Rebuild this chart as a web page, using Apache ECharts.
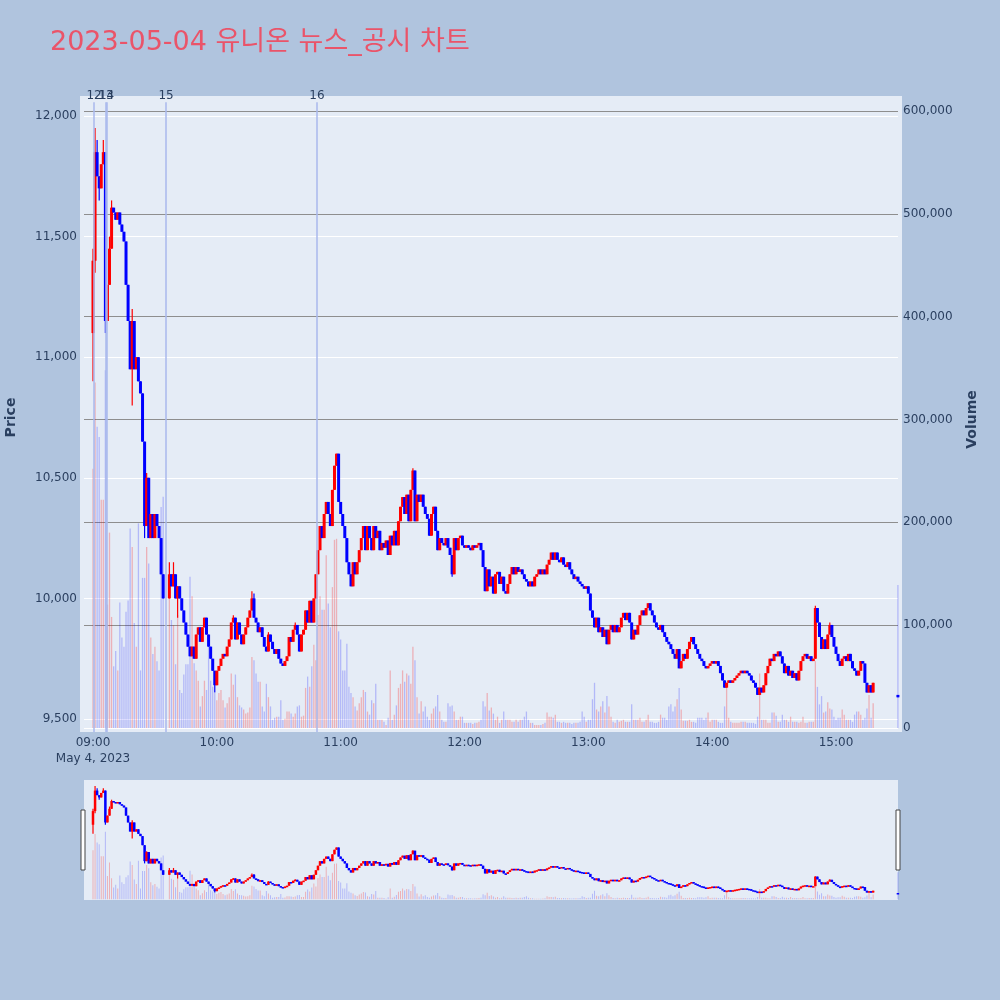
<!DOCTYPE html>
<html><head><meta charset="utf-8">
<script src="https://cdn.jsdelivr.net/npm/echarts@6/dist/echarts.min.js"></script>
<style>html,body{margin:0;padding:0;background:#b0c4de;}#chart{width:1000px;height:1000px;}</style>
</head><body><div id="chart"></div>
<script>
// ---------------- data (minute index = minutes after 09:00) ----------------
const titleText = '2023-05-04 유니온 뉴스_공시 차트';
const sessionStartHour = 9;
const dateLabel = 'May 4, 2023';
const xTickMinutes = [0, 60, 120, 180, 240, 300, 360];

const openPrice = [
11100,11400,11850,11750,11700,11800,11850,11150,11300,11450,
11620,11600,11570,11600,11550,11520,11480,11300,11150,10950,
11150,10950,11000,10900,10850,10650,10300,10500,10250,10350,
10250,10350,10300,10250,10100,null,null,10000,10100,10050,
10100,10000,10050,10000,9950,9900,9850,9800,9760,9800,
9750,9850,9880,9820,9880,9920,9850,9800,9750,9700,
9640,9700,9720,9750,9770,9760,9800,9830,9900,9920,
9830,9900,9850,9810,9850,9880,9920,9950,10000,9920,
9900,9860,9880,9840,9800,9780,9850,9820,9790,9770,
9790,9750,9730,9720,9740,9760,9840,9820,9870,9890,
9850,9780,9850,9870,9950,9900,9990,9900,10000,10100,
10200,10300,10250,10350,10400,10350,10300,10450,10550,10600,
10400,10350,10300,10250,10150,10100,10050,10150,10100,10150,
10200,10250,10300,10200,10300,10250,10200,10300,10250,10280,
10200,10230,10210,10240,10180,10260,10220,10280,10220,10320,
10380,10420,10350,10430,10320,10450,10530,10320,10430,10400,
10430,10380,10350,10330,10260,10350,10380,10280,10200,10250,
10230,10220,10250,10210,10180,10100,10250,10200,10250,10260,
10220,10210,10220,10210,10200,10220,10210,10220,10230,10200,
10130,10030,10120,10050,10090,10020,10100,10110,10060,10090,
10030,10020,10060,10100,10130,10100,10130,10110,10120,10100,
10080,10070,10050,10070,10050,10090,10100,10120,10100,10120,
10100,10140,10160,10190,10160,10190,10160,10150,10170,10140,
10130,10150,10120,10100,10080,10090,10070,10060,10050,10040,
10050,10020,9950,9920,9880,9920,9860,9880,9840,9870,
9810,9870,9890,9860,9890,9860,9880,9920,9940,9910,
9940,9900,9830,9870,9850,9890,9930,9950,9930,9960,
9980,9950,9930,9900,9880,9870,9890,9860,9840,9820,
9810,9790,9770,9750,9790,9710,9740,9770,9750,9790,
9820,9840,9810,9790,9770,9750,9740,9720,9710,9720,
9730,9740,9730,9740,9720,9690,9660,9630,9650,9660,
9650,9660,9670,9680,9690,9700,9690,9700,9690,9680,
9660,9650,9630,9600,9630,9610,9640,9690,9720,9750,
9740,9770,9760,9780,9760,9730,9690,9720,9680,9700,
9670,9690,9660,9700,9740,9760,9770,9750,9760,9740,
9750,9960,9900,9840,9790,9830,9790,9850,9890,9840,
9800,9770,9740,9720,9750,9760,9740,9770,9740,9710,
9700,9680,9700,9740,9730,9650,9610,9640,9610
];
const closePrice = [
11400,11850,11750,11700,11800,11850,11150,11300,11450,11620,
11600,11570,11600,11550,11520,11480,11300,11150,10950,11150,
10950,11000,10900,10850,10650,10300,10500,10250,10350,10250,
10350,10300,10250,10100,10000,null,null,10100,10050,10100,
10000,10050,10000,9950,9900,9850,9800,9760,9800,9750,
9850,9880,9820,9880,9920,9850,9800,9750,9700,9640,
9700,9720,9750,9770,9760,9800,9830,9900,9920,9830,
9900,9850,9810,9850,9880,9920,9950,10000,9920,9900,
9860,9880,9840,9800,9780,9850,9820,9790,9770,9790,
9750,9730,9720,9740,9760,9840,9820,9870,9890,9850,
9780,9850,9870,9950,9900,9990,9900,10000,10100,10200,
10300,10250,10350,10400,10350,10300,10450,10550,10600,10400,
10350,10300,10250,10150,10100,10050,10150,10100,10150,10200,
10250,10300,10200,10300,10250,10200,10300,10250,10280,10200,
10230,10210,10240,10180,10260,10220,10280,10220,10320,10380,
10420,10350,10430,10320,10450,10530,10320,10430,10400,10430,
10380,10350,10330,10260,10350,10380,10280,10200,10250,10230,
10220,10250,10210,10180,10100,10250,10200,10250,10260,10220,
10210,10220,10210,10200,10220,10210,10220,10230,10200,10130,
10030,10120,10050,10090,10020,10100,10110,10060,10090,10030,
10020,10060,10100,10130,10100,10130,10110,10120,10100,10080,
10070,10050,10070,10050,10090,10100,10120,10100,10120,10100,
10140,10160,10190,10160,10190,10160,10150,10170,10140,10130,
10150,10120,10100,10080,10090,10070,10060,10050,10040,10050,
10020,9950,9920,9880,9920,9860,9880,9840,9870,9810,
9870,9890,9860,9890,9860,9880,9920,9940,9910,9940,
9900,9830,9870,9850,9890,9930,9950,9930,9960,9980,
9950,9930,9900,9880,9870,9890,9860,9840,9820,9810,
9790,9770,9750,9790,9710,9740,9770,9750,9790,9820,
9840,9810,9790,9770,9750,9740,9720,9710,9720,9730,
9740,9730,9740,9720,9690,9660,9630,9650,9660,9650,
9660,9670,9680,9690,9700,9690,9700,9690,9680,9660,
9650,9630,9600,9630,9610,9640,9690,9720,9750,9740,
9770,9760,9780,9760,9730,9690,9720,9680,9700,9670,
9690,9660,9700,9740,9760,9770,9750,9760,9740,9750,
9960,9900,9840,9790,9830,9790,9850,9890,9840,9800,
9770,9740,9720,9750,9760,9740,9770,9740,9710,9700,
9680,9700,9740,9730,9650,9610,9640,9610,9650
];
// wicks that reach beyond the candle body (minute: price)
const wickHigh = {0:11450,1:11950,2:11900,5:11900,8:11500,9:11650,19:11200,26:10520,37:10150,39:10150,68:9930,77:10030,78:10020,85:9860,98:9900,155:10540,350:9970,357:9900};
const wickLow = {0:10900,1:11350,3:11650,6:11100,19:10800,25:10250,41:9920,59:9610,174:10090};
// volume in thousands of shares
const volumeK = [
252,336,293,283,222,222,348,120,190,108,
60,75,56,122,88,79,113,124,194,176,
102,79,199,56,146,146,176,160,88,72,
79,65,56,215,225,null,null,144,105,100,
62,110,37,34,52,62,62,147,128,63,
56,46,21,31,46,37,79,46,40,34,
27,34,37,27,20,24,30,53,42,52,
30,22,20,18,14,15,20,69,66,53,
45,45,21,16,43,30,21,8,10,11,
11,27,8,9,16,16,14,11,14,21,
22,11,12,39,50,40,60,81,66,110,
128,115,115,168,121,98,137,183,184,94,
86,56,56,82,40,34,30,21,17,24,
30,37,35,16,13,27,24,43,8,8,
8,6,3,10,56,8,13,22,39,43,
56,45,53,51,43,79,66,30,14,26,
16,21,11,8,14,19,21,32,16,8,
6,6,24,21,22,16,8,8,11,11,
5,5,5,5,4,5,5,6,8,26,
21,34,17,20,14,8,11,5,8,16,
8,8,8,6,6,8,6,8,8,11,
16,8,5,5,3,3,3,3,4,5,
15,11,11,10,13,6,6,5,6,5,
5,5,4,5,5,5,6,16,11,6,
8,8,28,44,18,16,21,26,15,31,
21,11,6,5,8,6,7,8,6,6,
6,23,8,8,8,10,6,6,8,13,
6,6,5,5,6,13,10,10,8,21,
23,16,21,28,39,18,7,7,7,8,
6,6,5,10,10,10,8,10,15,6,
8,8,8,6,5,5,21,39,10,6,
5,5,5,5,6,6,6,5,5,5,
5,4,11,53,8,8,8,5,5,15,
15,12,6,6,13,8,8,6,11,6,
6,6,5,6,11,5,5,6,6,6,
65,40,23,31,15,16,25,19,18,11,
8,10,10,18,13,8,8,8,6,13,
16,16,13,8,10,19,32,10,24
];
// closing single-price auction at 15:30
const auctionMinute = 390, auctionOpen = 9600, auctionClose = 9590, auctionVolumeK = 139;
// news markers
const newsLabels = ['12', '13', '14', '15', '16'];
const newsMinutes = [0.5, 6.3, 6.6, 35.4, 108.5];

// ---------------- build series data ----------------
const UP = '#ff0000', DOWN = '#0000ff';
const UPV = 'rgba(255,0,0,0.25)', DOWNV = 'rgba(0,0,255,0.22)';
const candles = [], vols = [];
function addCandle(m, o, c, v) {
  const hi = wickHigh[m] != null ? wickHigh[m] : Math.max(o, c);
  const lo = wickLow[m] != null ? wickLow[m] : Math.min(o, c);
  candles.push([m, o, c, lo, hi]);
  vols.push({ value: [m, v * 1000], itemStyle: { color: c >= o ? UPV : DOWNV } });
}
for (let m = 0; m < closePrice.length; m++) {
  if (closePrice[m] == null) continue;
  addCandle(m, openPrice[m], closePrice[m], volumeK[m]);
}
addCandle(auctionMinute, auctionOpen, auctionClose, auctionVolumeK);

// candle drawn through the axis scales (api.coord)
function candleItem(bodyWidth) {
  return function (params, api) {
    const m = api.value(0), o = api.value(1), c = api.value(2), lo = api.value(3), hi = api.value(4);
    const pO = api.coord([m, o]), pC = api.coord([m, c]);
    const pL = api.coord([m, lo]), pH = api.coord([m, hi]);
    const color = c >= o ? UP : DOWN;
    const top = Math.min(pO[1], pC[1]);
    const h = Math.max(Math.abs(pO[1] - pC[1]), 1.5);
    return { type: 'group', children: [
      { type: 'line', shape: { x1: pL[0], y1: pL[1], x2: pH[0], y2: pH[1] }, style: { stroke: color, lineWidth: 1.2 } },
      { type: 'rect', shape: { x: pO[0] - bodyWidth / 2, y: top, width: bodyWidth, height: h }, style: { fill: color } }
    ] };
  };
}

function fmtTime(m) {
  const h = sessionStartHour + Math.floor(m / 60), mm = m % 60;
  return String(h).padStart(2, '0') + ':' + String(mm).padStart(2, '0');
}
const FONT = 'DejaVu Sans';
const TXT = '#2a3f5f';
const X_MIN = -4.36, X_MAX = 390.04;       // plot area 84..898 px
const BG_X_MIN = -6.30, BG_X_MAX = 391.97;  // background 80..902 px
const NB = { outerBoundsMode: 'none', containLabel: false };

const chart = echarts.init(document.getElementById('chart'), null, { renderer: 'canvas' });
chart.setOption({
  backgroundColor: '#b0c4de',
  animation: false,
  title: {
    text: titleText, left: 50, top: 29, padding: 0,
    textStyle: { fontFamily: FONT + ', Noto Sans CJK KR', fontSize: 27, fontWeight: 'normal', color: '#ea5469' }
  },
  grid: [
    Object.assign({ left: 80, top: 96, width: 822, height: 636, show: true, backgroundColor: '#e5ecf6', borderWidth: 0 }, NB),
    Object.assign({ left: 84, top: 116, width: 814, height: 603 }, NB),
    Object.assign({ left: 84, top: 111, width: 814, height: 617 }, NB),
    Object.assign({ left: 84, top: 780, width: 814, height: 120, show: true, backgroundColor: '#e5ecf6', borderWidth: 0 }, NB),
    Object.assign({ left: 84, top: 780, width: 814, height: 120 }, NB)
  ],
  xAxis: [
    { type: 'value', gridIndex: 0, min: BG_X_MIN, max: BG_X_MAX, show: false },
    { type: 'value', gridIndex: 1, min: X_MIN, max: X_MAX, show: false },
    { type: 'value', gridIndex: 2, min: X_MIN, max: X_MAX,
      axisLine: { show: false }, axisTick: { show: false }, splitLine: { show: false },
      axisLabel: { customValues: xTickMinutes, margin: 7, color: TXT, fontFamily: FONT, fontSize: 12, lineHeight: 16,
        formatter: v => v === 0 ? fmtTime(v) + '\n' + dateLabel : fmtTime(v) } },
    { type: 'value', gridIndex: 3, min: X_MIN, max: X_MAX, show: false },
    { type: 'value', gridIndex: 4, min: X_MIN, max: X_MAX, show: false }
  ],
  yAxis: [
    { type: 'value', gridIndex: 0, min: 0, max: 1, show: false },
    { type: 'value', gridIndex: 1, min: 9500, max: 12000, interval: 500, position: 'left',
      axisLine: { show: false }, axisTick: { show: false },
      axisLabel: { margin: 7, color: TXT, fontFamily: FONT, fontSize: 12, formatter: v => v.toLocaleString('en-US') },
      splitLine: { lineStyle: { color: '#ffffff', width: 1 } },
      name: 'Price', nameLocation: 'middle', nameRotate: 90, nameGap: 66,
      nameTextStyle: { color: TXT, fontFamily: FONT, fontSize: 14, fontWeight: 'bold' } },
    { type: 'value', gridIndex: 2, min: 0, max: 600000, interval: 100000, position: 'right',
      axisLine: { show: false }, axisTick: { show: false },
      axisLabel: { margin: 5, color: TXT, fontFamily: FONT, fontSize: 12, formatter: v => v.toLocaleString('en-US') },
      splitLine: { lineStyle: { color: ['#ffffff', '#8e8e8e', '#8e8e8e', '#8e8e8e', '#8e8e8e', '#8e8e8e', '#8e8e8e'], width: 1 } },
      name: 'Volume', nameLocation: 'middle', nameRotate: 90, nameGap: 67,
      nameTextStyle: { color: TXT, fontFamily: FONT, fontSize: 14, fontWeight: 'bold' } },
    { type: 'value', gridIndex: 3, min: 9446, max: 12083, show: false },
    { type: 'value', gridIndex: 4, min: -3890, max: 614600, show: false }
  ],
  series: [
    { type: 'line', xAxisIndex: 0, yAxisIndex: 0, data: [], silent: true,
      markLine: { symbol: ['none', 'none'], silent: true, animation: false,
        lineStyle: { color: '#a9b8ec', width: 1.5, type: 'solid' },
        label: { show: true, position: 'end', distance: 0, color: TXT, fontFamily: FONT, fontSize: 12,
          formatter: p => p.name },
        data: newsMinutes.map((m, i) => [{ name: newsLabels[i], coord: [m, 0] }, { name: newsLabels[i], coord: [m, 0.99] }]) } },
    { type: 'bar', xAxisIndex: 2, yAxisIndex: 2, data: vols, barWidth: 1.3, silent: true },
    { type: 'custom', xAxisIndex: 1, yAxisIndex: 1, data: candles, encode: { x: 0, y: [1, 2, 3, 4] },
      renderItem: candleItem(3), silent: true },
    { type: 'bar', xAxisIndex: 4, yAxisIndex: 4, data: vols, barWidth: 1, silent: true },
    { type: 'custom', xAxisIndex: 3, yAxisIndex: 3, data: candles, encode: { x: 0, y: [1, 2, 3, 4] },
      renderItem: candleItem(2.5), silent: true }
  ],
  graphic: [
    { type: 'rect', shape: { x: 81, y: 810, width: 4, height: 60 }, style: { fill: '#ffffff', stroke: '#444', lineWidth: 1 }, z: 10 },
    { type: 'rect', shape: { x: 896, y: 810, width: 4, height: 60 }, style: { fill: '#ffffff', stroke: '#444', lineWidth: 1 }, z: 10 }
  ]
});
</script></body></html>
